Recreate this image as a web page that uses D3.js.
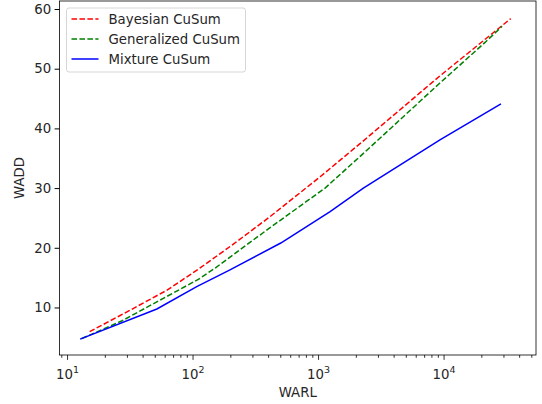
<!DOCTYPE html>
<html>
<head>
<meta charset="utf-8">
<script src="https://cdn.jsdelivr.net/npm/d3@7"></script>
<style>
  body { margin: 0; background: #fff; }
  text { font-family: "DejaVu Sans", sans-serif; fill: #262626; }
</style>
</head>
<body>
<div id="chart"></div>
<script>
// values
bayesX = [15, 30, 62, 110, 200, 404, 1030, 2300, 9270, 34000]
bayesY = [5.95, 9.3, 12.9, 16.4, 20.3, 25.1, 31.9, 38.0, 48.8, 58.4]

genX = [13, 27, 60, 110, 150, 400, 1127, 2300, 9270, 21200, 29000]
genY = [4.8, 7.74, 11.7, 14.7, 16.6, 23.2, 30.0, 35.9, 47.6, 54.4, 57.1]

mixX = [12.6, 51.5, 107, 197, 500, 1236, 2275, 9270, 28400]
mixY = [4.7, 9.75, 13.5, 16.3, 20.8, 26.05, 30.0, 38.06, 44.1]

seriesNames = ["Bayesian CuSum", "Generalized CuSum", "Mixture CuSum"]
yTicks = [10, 20, 30, 40, 50, 60]
xTicks = [10, 100, 1000, 10000]

margin = {top: 1, right: 6, bottom: 49, left: 59.5},
width = 542 - margin.left - margin.right,
height = 404 - margin.top - margin.bottom;

svg = d3.select("#chart")
  .append("svg")
  .attr("width", 542)
  .attr("height", 404)
  .append("g")
  .attr("transform", `translate(${margin.left}, ${margin.top})`);

x = d3.scaleLog().domain([8.63, 54000]).range([0, width])
y = d3.scaleLinear().domain([2.04, 61.34]).range([height, 0])

series = [
  {name: seriesNames[0], xs: bayesX, ys: bayesY, color: "red", dash: "5.55,2.4"},
  {name: seriesNames[1], xs: genX, ys: genY, color: "green", dash: "5.55,2.4"},
  {name: seriesNames[2], xs: mixX, ys: mixY, color: "blue", dash: null}
]

line = d3.line()
  .x(d => x(d[0]))
  .y(d => y(d[1]))

series.forEach(s => {
  svg.append("path")
    .datum(s.xs.map((v, i) => [v, s.ys[i]]))
    .attr("fill", "none")
    .attr("stroke", s.color)
    .attr("stroke-width", 1.5)
    .attr("stroke-dasharray", s.dash)
    .attr("d", line)
})

// y axis
yAxis = svg.append("g")
  .call(d3.axisLeft(y).tickValues(yTicks).tickSize(4.9).tickPadding(3.5).tickFormat(d3.format("d")))
yAxis.select(".domain").remove()
yAxis.selectAll("text").style("font-size", "13.3px").style("fill", "#262626")
yAxis.selectAll("line").attr("stroke", "#000")

// x axis, minor ticks then majors with superscripts
minor = []
for (e = 0; e < 5; e++) {
  for (m = 2; m < 10; m++) {
    v = m * Math.pow(10, e)
    if (v > x.domain()[0] && v < x.domain()[1]) minor.push(v)
  }
}
svg.append("g")
  .attr("transform", `translate(0, ${height})`)
  .selectAll("line")
  .data(minor)
  .join("line")
    .attr("x1", d => x(d)).attr("x2", d => x(d))
    .attr("y1", 0).attr("y2", 2.8)
    .attr("stroke", "#000").attr("stroke-width", 0.8)

xg = svg.append("g")
  .attr("transform", `translate(0, ${height})`)
xg.selectAll("line")
  .data(xTicks)
  .join("line")
    .attr("x1", d => x(d)).attr("x2", d => x(d))
    .attr("y1", 0).attr("y2", 4.9)
    .attr("stroke", "#000").attr("stroke-width", 0.8)
lbl = xg.selectAll("text")
  .data(xTicks)
  .join("text")
    .attr("x", d => x(d))
    .attr("y", 24)
    .attr("text-anchor", "middle")
    .style("font-size", "13.3px")
lbl.append("tspan").text("10")
lbl.append("tspan")
  .attr("dy", -6)
  .style("font-size", "9.5px")
  .text(d => Math.round(Math.log10(d)))

// frame
svg.append("rect")
  .attr("x", 0).attr("y", 0)
  .attr("width", width).attr("height", height)
  .attr("fill", "none")
  .attr("stroke", "#000")
  .attr("stroke-width", 0.8)

// axis titles
svg.append("text")
  .attr("x", width / 2)
  .attr("y", height + 42)
  .attr("text-anchor", "middle")
  .style("font-size", "13.3px")
  .text("WARL")
svg.append("text")
  .attr("transform", `translate(${-36}, ${height / 2}) rotate(-90)`)
  .attr("text-anchor", "middle")
  .style("font-size", "13.3px")
  .text("WADD")

// legend
legend = svg.append("g").attr("transform", "translate(7, 7)")
legend.append("rect")
  .attr("width", 179).attr("height", 64)
  .attr("rx", 2.5)
  .attr("fill", "#fff").attr("fill-opacity", 0.8)
  .attr("stroke", "#ccc").attr("stroke-width", 0.8)
series.forEach((s, i) => {
  ly = 11 + i * 20
  legend.append("line")
    .attr("x1", 5).attr("x2", 32)
    .attr("y1", ly).attr("y2", ly)
    .attr("stroke", s.color)
    .attr("stroke-width", 1.5)
    .attr("stroke-dasharray", s.dash)
  legend.append("text")
    .attr("x", 42).attr("y", ly + 4.7)
    .style("font-size", "13.3px")
    .text(s.name)
})
</script>
</body>
</html>
